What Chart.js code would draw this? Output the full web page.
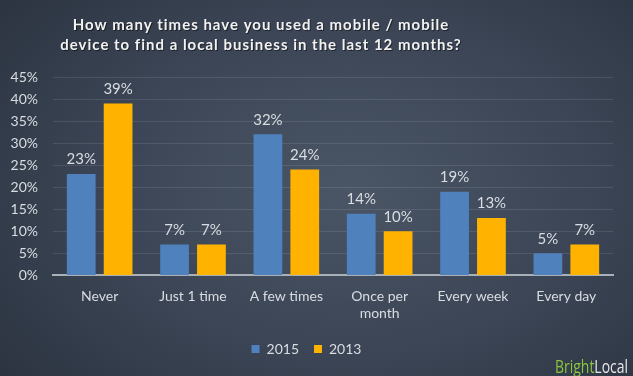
<!DOCTYPE html>
<html>
<head>
<meta charset="utf-8">
<script src="https://cdn.jsdelivr.net/npm/chart.js@4"></script>
<style>
  html, body { margin: 0; padding: 0; }
  #wrap {
    width: 633px; height: 376px; position: relative;
    background: radial-gradient(ellipse 70% 80% at 55% 50%, #4a5566 0%, #3b4555 55%, #2c3441 100%);
  }
</style>
</head>
<body>
<div id="wrap"><canvas id="myChart" width="633" height="376"></canvas></div>
<script>
const categorias = ['Never', 'Just 1 time', 'A few times', ['Once per', 'month'], 'Every week', 'Every day'];
const valores2015 = [23, 7, 32, 14, 19, 5];
const valores2013 = [39, 7, 24, 10, 13, 7];
const tituloLineas = ['How many times have you used a mobile / mobile', 'device to find a local business in the last 12 months?'];

const textoGris = '#d9dde2';

// Título centrado, valores y logo (dibujados como texto del canvas)
const extras = {
    id: 'extras',
    afterDraw(chart) {
        const ctx = chart.ctx;
        ctx.save();
        ctx.fillStyle = '#f2f2f2';
        ctx.font = 'bold 15px Lato';
        ctx.letterSpacing = '1px';
        ctx.textAlign = 'center';
        ctx.textBaseline = 'middle';
        ctx.shadowColor = 'rgba(0,0,0,0.5)';
        ctx.shadowOffsetX = 1;
        ctx.shadowOffsetY = 1;
        ctx.fillText(tituloLineas[0], 261, 25);
        ctx.fillText(tituloLineas[1], 261, 45);
        ctx.shadowColor = 'transparent';
        ctx.letterSpacing = '0px';

        // valores encima de las barras
        ctx.font = '15px Lato';
        ctx.fillStyle = textoGris;
        ctx.textBaseline = 'bottom';
        chart.data.datasets.forEach((ds, i) => {
            chart.getDatasetMeta(i).data.forEach((bar, j) => {
                ctx.fillText(ds.data[j] + '%', bar.x, bar.y - 7);
            });
        });

        // logo
        ctx.font = '19px "Open Sans"';
        ctx.textAlign = 'left';
        ctx.textBaseline = 'alphabetic';
        const wB = ctx.measureText('Bright').width;
        const wT = ctx.measureText('BrightLocal').width;
        ctx.translate(555, 373);
        ctx.scale(73 / wT, 1);
        ctx.fillStyle = '#8cc63f';
        ctx.fillText('Bright', 0, 0);
        ctx.fillStyle = '#e6e6e6';
        ctx.fillText('Local', wB, 0);
        ctx.restore();
    }
};

new Chart(document.getElementById('myChart'), {
    type: 'bar',
    data: {
        labels: categorias,
        datasets: [{
            label: '2015',
            data: valores2015,
            backgroundColor: '#4f81bd',
            categoryPercentage: 0.79,
            barPercentage: 0.78
        }, {
            label: '2013',
            data: valores2013,
            backgroundColor: '#ffb300',
            categoryPercentage: 0.79,
            barPercentage: 0.78
        }]
    },
    options: {
        responsive: false,
        animation: false,
        layout: { padding: { top: 77, right: 20, left: 0, bottom: 10 } },
        scales: {
            x: {
                grid: { display: false },
                border: { color: '#a9b0b8', width: 2 },
                ticks: { color: textoGris, font: { family: 'Lato', size: 14 }, padding: 5, maxRotation: 0 }
            },
            y: {
                min: 0,
                max: 45,
                grid: { color: 'rgba(255,255,255,0.1)', drawTicks: false },
                border: { display: false },
                afterFit: s => { s.width = 53; },
                ticks: {
                    stepSize: 5,
                    color: textoGris,
                    font: { family: 'Lato', size: 14 },
                    padding: 15,
                    callback: v => v + '%'
                }
            }
        },
        plugins: {
            legend: {
                position: 'bottom',
                labels: {
                    color: textoGris,
                    font: { family: 'Lato', size: 14 },
                    boxWidth: 8,
                    boxHeight: 8,
                    padding: 15
                }
            },
            tooltip: { enabled: false }
        }
    },
    plugins: [extras]
});
</script>
</body>
</html>
